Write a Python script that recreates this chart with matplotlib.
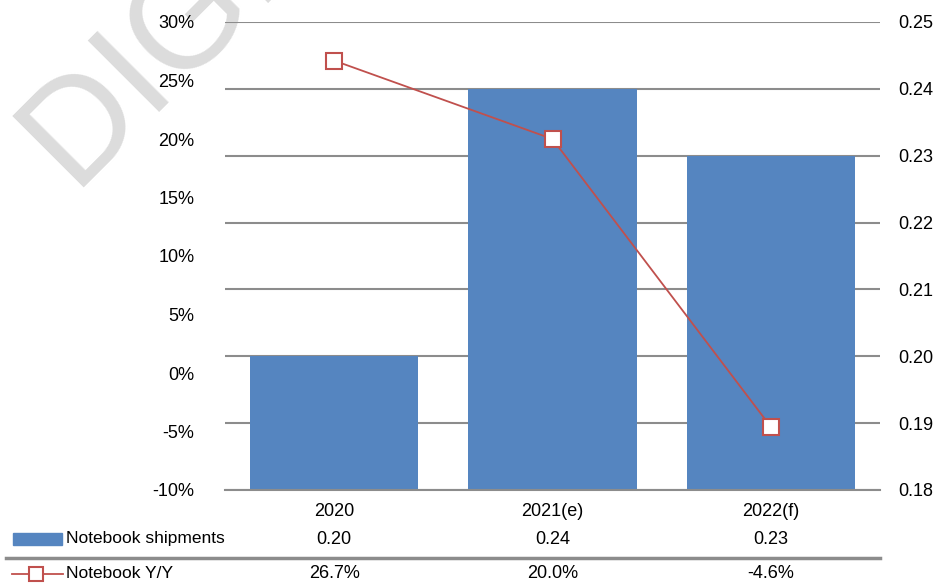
import matplotlib
matplotlib.use("Agg")
import matplotlib.pyplot as plt
import matplotlib.patches as patches
from matplotlib.lines import Line2D
from matplotlib.transforms import blended_transform_factory

plt.rcParams['font.family'] = ['Liberation Sans', 'DejaVu Sans']

# data
years = ['2020', '2021(e)', '2022(f)']
shipments = [0.20, 0.24, 0.23]
yoy = [26.7, 20.0, -4.6]
ship_labels = ['0.20', '0.24', '0.23']
yoy_labels = ['26.7%', '20.0%', '-4.6%']
left_ticks = [-10, -5, 0, 5, 10, 15, 20, 25, 30]
right_ticks = [0.18, 0.19, 0.20, 0.21, 0.22, 0.23, 0.24, 0.25]

blue = '#5585C0'
red = '#C0504D'
grid = '#8C8C8C'
W, H = 940, 583
fs = 13

fig = plt.figure(figsize=(9.4, 5.83), dpi=100)

# watermark
fig.text(72 / W, 1 - 187 / H, 'DIGITIMES', rotation=45, rotation_mode='anchor',
         fontsize=105, color='#DCDCDC', zorder=-1, ha='left', va='baseline')

ax = fig.add_axes([225 / W, 1 - 490 / H, 655 / W, 468 / H])
ax.patch.set_alpha(0)
x = list(range(len(years)))
ax.bar(x, shipments, width=0.77, color=blue, zorder=2)
ax.set_xlim(-0.5, 2.5)
ax.set_ylim(0.18, 0.25)
ax.yaxis.grid(True, color=grid, lw=1.5, zorder=0)
ax.set_axisbelow(True)
ax.set_xticks([])
for s in ['top', 'left', 'right']:
    ax.spines[s].set_visible(False)
ax.spines['bottom'].set_color(grid)
ax.spines['bottom'].set_linewidth(1.5)

axl = ax.twinx()
axl.plot(x, yoy, color=red, lw=1.3, marker='s', markersize=11,
         markerfacecolor='white', markeredgecolor=red, markeredgewidth=1.5, zorder=3)
axl.set_ylim(-10, 30)
axl.set_yticks(left_ticks)
axl.set_yticklabels(['%d%%' % t for t in left_ticks])
axl.yaxis.tick_left()
axl.tick_params(axis='y', length=0, pad=22, labelsize=fs)
for s in axl.spines.values():
    s.set_visible(False)

ax.set_yticks(right_ticks)
ax.set_yticklabels(['%.2f' % t for t in right_ticks])
ax.yaxis.tick_right()
ax.tick_params(axis='y', length=0, pad=13, labelsize=fs)

# data table under the plot
tr = blended_transform_factory(ax.transData, fig.transFigure)
for i in x:
    fig.text(i, 1 - 511 / H, years[i], transform=tr, ha='center', va='center', fontsize=fs)
    fig.text(i, 1 - 539 / H, ship_labels[i], transform=tr, ha='center', va='center', fontsize=fs)
    fig.text(i, 1 - 574 / H, yoy_labels[i], transform=tr, ha='center', va='center', fontsize=fs)

fig.text(66 / W, 1 - 539 / H, 'Notebook shipments', ha='left', va='center', fontsize=12.5)
fig.text(66 / W, 1 - 574 / H, 'Notebook Y/Y', ha='left', va='center', fontsize=12.5)

fig.add_artist(patches.Rectangle((13 / W, 1 - 545 / H), 49 / W, 12 / H,
                                 transform=fig.transFigure, color=blue))
fig.add_artist(Line2D([6 / W, 880 / W], [1 - 558 / H, 1 - 558 / H],
                      transform=fig.transFigure, color=grid, lw=2.5))
fig.add_artist(Line2D([12 / W, 63 / W], [1 - 574 / H, 1 - 574 / H],
                      transform=fig.transFigure, color=red, lw=1.3))
fig.add_artist(Line2D([36 / W], [1 - 574 / H], transform=fig.transFigure, color=red,
                      marker='s', markersize=10, markerfacecolor='white',
                      markeredgecolor=red, markeredgewidth=1.5))

fig.savefig('out.png', dpi=100)
